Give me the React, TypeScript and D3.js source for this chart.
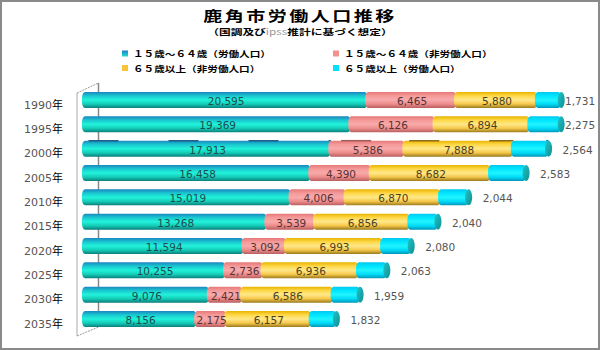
import React from 'react';
import * as d3 from 'd3';

const years = ['1990', '1995', '2000', '2005', '2010', '2015', '2020', '2025', '2030', '2035'];
const labor1564 = [20595, 19369, 17913, 16458, 15019, 13268, 11594, 10255, 9076, 8156];
const nonLabor1564 = [6465, 6126, 5386, 4390, 4006, 3539, 3092, 2736, 2421, 2175];
const nonLabor65 = [5880, 6894, 7888, 8682, 6870, 6856, 6993, 6936, 6586, 6157];
const labor65 = [1731, 2275, 2564, 2583, 2044, 2040, 2080, 2063, 1959, 1832];
const seriesNames = [
  '１５歳～６４歳（労働人口）',
  '１５歳～６４歳（非労働人口）',
  '６５歳以上（非労働人口）',
  '６５歳以上（労働人口）',
];
const title = '鹿角市労働人口推移';

const seriesData = [labor1564, nonLabor1564, nonLabor65, labor65];
const grads = [
  { id: 'gT', stops: ['#1b86c0', '#19c9d0', '#22f2da', '#14cdb8', '#0a7f7c'], label: '#1e4d4d', dark: '#1b5f8a' },
  { id: 'gP', stops: ['#e77878', '#f59a9a', '#f8aaaa', '#ee8c8c', '#b85e5e'], label: '#553333', dark: '#a25a5a' },
  { id: 'gY', stops: ['#e8b400', '#ffd94a', '#ffe88a', '#f6c84a', '#9a7a1c'], label: '#4a3f1e', dark: '#8e6e18' },
  { id: 'gC', stops: ['#00c8f0', '#00e6ff', '#20f4ff', '#00dcf8', '#0096b8'], label: '#333', dark: '#0a8aa8' },
];
const stopOffsets = [0, 0.25, 0.5, 0.75, 1];

export default function App() {
  const x = d3.scaleLinear().domain([0, 35000]).range([84.5, 84.5 + 35000 * 0.01375]);
  const y = d3.scalePoint<string>().domain(years).range([100, 319]);
  const barH = 16;
  const fmt = d3.format(',');

  const rows = years.map((yr, i) => {
    let acc = 0;
    const segs = seriesData.map((s, k) => {
      const v = s[i];
      const seg = { k, v, x0: x(acc), x1: x(acc + v) };
      acc += v;
      return seg;
    });
    return { yr, i, segs, total: acc };
  });

  return (
    <svg width={600} height={350} style={{ position: 'absolute', left: 0, top: 0, background: '#fff' }}
      fontFamily="'DejaVu Sans', sans-serif">
      <defs>
        {grads.map(g => (
          <linearGradient key={g.id} id={g.id} x1="0" y1="0" x2="0" y2="1">
            {g.stops.map((c, j) => <stop key={j} offset={stopOffsets[j]} stopColor={c} />)}
          </linearGradient>
        ))}
        <linearGradient id="gCap" x1="0" y1="0" x2="1" y2="1">
          <stop offset="0" stopColor="#22c4c4" />
          <stop offset="1" stopColor="#0c8f95" />
        </linearGradient>
        <linearGradient id="gLegT" x1="0" y1="0" x2="0" y2="1">
          <stop offset="0" stopColor="#1f7fd0" />
          <stop offset="1" stopColor="#22e0c8" />
        </linearGradient>
      </defs>
      <rect x={1} y={1} width={598} height={348} fill="#fff" stroke="#8a8a8a" strokeWidth={2} />

      {/* Title */}
      <text transform="translate(300,21) scale(1.36,1)" textAnchor="middle" fontSize={14} fontWeight="bold"
        letterSpacing={1.8} fontFamily="'Noto Sans CJK JP', sans-serif" fill="#000">{title}</text>
      <text transform="translate(300,34.5) scale(1.38,1)" textAnchor="middle" fontSize={8.5} fontWeight="bold"
        fontFamily="'Noto Sans CJK JP', sans-serif" fill="#000">
        （国調及び<tspan fill="#999" fontWeight="normal">ipss</tspan>推計に基づく想定）
      </text>

      {/* Legend */}
      {seriesNames.map((name, k) => {
        const col = k === 0 || k === 2 ? 0 : 1;
        const row = k < 2 ? 0 : 1;
        const lx = col === 0 ? 122 : 333;
        const ly = row === 0 ? 53.5 : 68;
        const fill = k === 0 ? 'url(#gLegT)' : k === 1 ? '#f29090' : k === 2 ? '#f8c43a' : '#00e2ff';
        return (
          <g key={name}>
            <rect x={lx} y={ly - 3} width={6} height={6} fill={fill} />
            <text transform={`translate(${lx + 11},${ly + 3.5}) scale(1.25,1)`} fontSize={8.5} fontWeight="bold"
              fontFamily="'Noto Sans CJK JP', sans-serif" fill="#000">{name}</text>
          </g>
        );
      })}

      {/* 3D frame */}
      <line x1={77} y1={93} x2={77} y2={336} stroke="#aaa" strokeWidth={1} />
      <line x1={98.5} y1={83} x2={98.5} y2={327} stroke="#888" strokeWidth={1.5} />
      <line x1={77} y1={93} x2={98.5} y2={83} stroke="#999" strokeWidth={1} strokeDasharray="2,1" />
      <line x1={77} y1={336} x2={98.5} y2={327} stroke="#999" strokeWidth={1} strokeDasharray="2,1" />

      {/* Category labels */}
      {years.map(yr => (
        <text key={yr} x={63} y={(y(yr) as number) + 8.5} textAnchor="end" fontSize={11} fill="#555">
          {yr}<tspan fill="#000" fontFamily="'Noto Sans CJK JP', sans-serif">年</tspan>
        </text>
      ))}

      {/* Bars */}
      {rows.map(r => {
        const cy = y(r.yr) as number;
        const top = cy - barH / 2;
        const xe = x(r.total);
        return (
          <g key={r.yr}>
            {r.segs.map(s => (
              <rect key={s.k} x={s.x0 - 2.5} y={top} width={s.x1 - s.x0 + 2.5} height={barH} rx={3} ry={6}
                fill={`url(#${grads[s.k].id})`} />
            ))}
            {r.i === 2 && r.segs.map(s => (
              <line key={'d' + s.k} x1={s.x0} x2={s.x1} y1={top} y2={top} stroke={grads[s.k].dark}
                strokeWidth={1.5} strokeDasharray="30,50" strokeDashoffset={-4 - (s.x0 - x(0))} />
            ))}
            <ellipse cx={xe} cy={cy} rx={3.5} ry={barH / 2} fill="url(#gCap)" />
            {r.segs.slice(0, 3).map(s => (
              <text key={'t' + s.k} x={(s.x0 + s.x1) / 2} y={cy + 5} textAnchor="middle" fontSize={10.5}
                fill={grads[s.k].label}>{fmt(s.v)}</text>
            ))}
            <text x={Math.min(xe + 14, 565)} y={cy + 5} fontSize={10.5} fill="#555">{fmt(r.segs[3].v)}</text>
          </g>
        );
      })}
    </svg>
  );
}
